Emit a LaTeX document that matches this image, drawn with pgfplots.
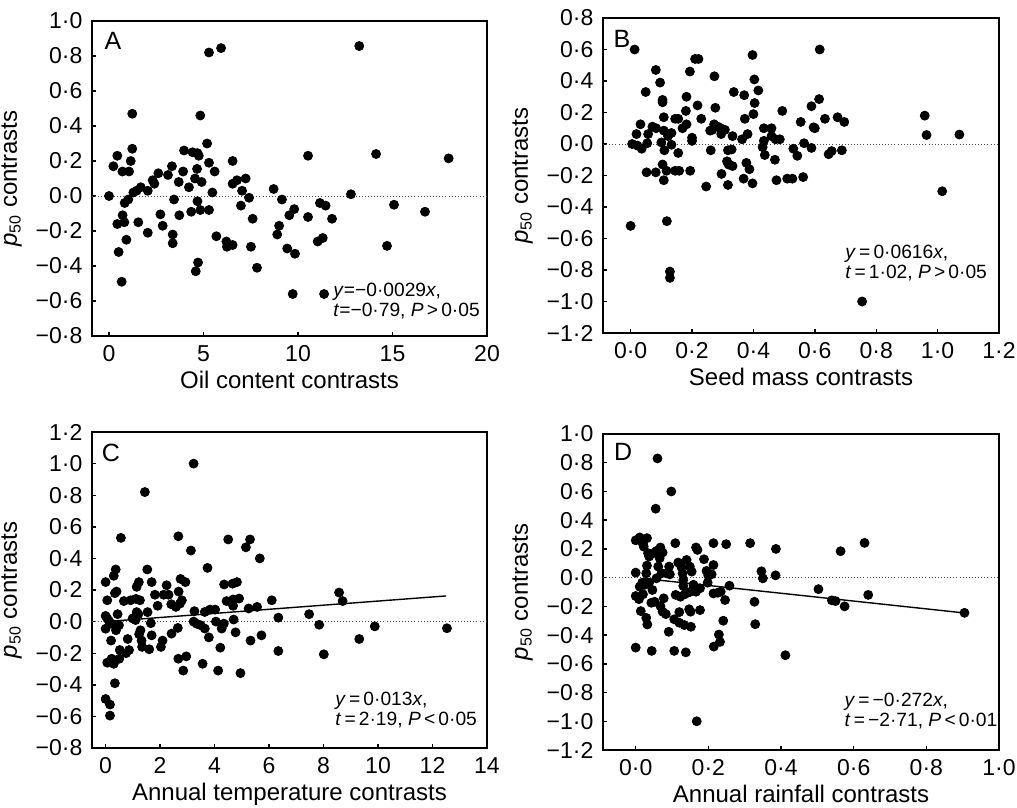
\documentclass[border=0pt]{standalone}
\usepackage{pgfplots}
\pgfplotsset{compat=1.18}
\usepackage{fontspec}
\setmainfont{Liberation Sans}

\pgfplotsset{
  panel/.style={
    scale only axis, anchor=north west,
    axis line style={line width=0.9pt},
    tick align=inside, xtick pos=left, ytick pos=left,
    major tick length=2.2pt,
    every tick/.style={black, line width=0.7pt},
    ticklabel style={font=\fontsize{11.5}{12}\selectfont},
    yticklabel style={xshift=-1.3pt},
    xticklabel style={yshift=-1.3pt},
    label style={font=\fontsize{12}{14}\selectfont},
    xlabel style={yshift=2.2pt},
    ylabel={\textit{p}\textsubscript{50} contrasts},
  },
  dots/.style={only marks, mark=*, mark size=2.25pt, black},
  zero/.style={black!70, line width=0.45pt, dash pattern=on 0.45pt off 1.1pt, forget plot},
  fit/.style={black, line width=0.7pt},
}
\tikzset{
  letter/.style={font=\fontsize{12.5}{14}\selectfont, inner sep=0pt, anchor=center},
  note/.style={font=\fontsize{9.6}{9.6}\selectfont, inner sep=0pt, anchor=north west, align=left},
}

\begin{document}
\begin{tikzpicture}
\path[use as bounding box] (0,0) rectangle (508.5pt,-404pt);

% A: oil content
\begin{axis}[panel, at={(46pt,-10.5pt)}, width=197.5pt, height=157.5pt,
  xmin=-0.9, xmax=20, ymin=-0.8, ymax=1.0,
  xtick={0,5,10,15,20}, xticklabels={0,5,10,15,20},
  ytick={-0.8,-0.6,-0.4,-0.2,0,0.2,0.4,0.6,0.8,1.0},
  yticklabels={−0·8,−0·6,−0·4,−0·2,0·0,0·2,0·4,0·6,0·8,1·0},
  xlabel={Oil content contrasts}]
\addplot[zero] coordinates {(-0.9,0)(20,0)};
\addplot[dots] table {
x y
0 0.00
0.23 0.17
0.44 0.23
0.71 0.14
1.06 0.14
1.15 0.20
1.23 0.27
1.23 0.47
0.83 -0.04
1.02 -0.02
1.29 0.02
1.46 0.03
1.68 0.05
2.05 0.03
0.72 -0.11
0.44 -0.16
0.81 -0.15
0.92 -0.25
0.51 -0.32
0.67 -0.49
1.55 -0.15
2.05 -0.21
2.31 0.09
2.40 0.07
2.61 0.13
2.72 -0.105
2.84 -0.17
3.12 0.12
3.33 0.17
3.44 -0.02
3.37 -0.22
3.37 -0.27
3.69 0.08
3.72 -0.11
3.92 0.14
3.97 0.26
4.23 0.05
4.35 -0.09
4.42 0.25
4.55 0.10
4.66 0.155
4.68 0.245
4.75 0.23
4.90 0.08
4.68 -0.03
4.83 -0.08
4.83 0.46
4.71 -0.38
4.59 -0.43
5.19 0.30
5.29 0.19
5.29 -0.08
5.29 0.82
5.93 0.845
5.47 0.02
5.59 0.14
5.68 -0.23
6.21 -0.26
6.24 -0.29
6.54 -0.28
6.54 0.20
6.54 0.07
6.77 0.09
6.98 -0.055
7.04 0.03
7.23 0.10
7.41 -0.01
7.60 -0.13
7.51 -0.29
7.83 -0.41
8.71 0.04
9.15 -0.02
8.90 -0.22
9.00 -0.17
9.54 -0.11
9.80 -0.075
9.43 -0.30
9.84 -0.33
9.72 -0.56
10.53 0.23
10.53 -0.12
13.24 0.857
14.13 0.24
17.97 0.215
12.80 0.01
11.16 -0.04
11.46 -0.055
11.80 -0.13
11.04 -0.26
11.31 -0.24
15.08 -0.05
16.72 -0.09
14.71 -0.285
11.38 -0.56
};
\node[letter] at (axis description cs:0.053,0.937) {A};
\node[note] at (axis description cs:0.61,0.168) {\textit{y}=−0·0029\textit{x},\\\textit{t}=−0·79, \textit{P}\,>\,0·05};
\end{axis}

% B: seed mass
\begin{axis}[panel, at={(301.5pt,-9pt)}, width=198pt, height=157.5pt,
  xmin=-0.09, xmax=1.2, ymin=-1.2, ymax=0.8,
  xtick={0,0.2,0.4,0.6,0.8,1.0,1.2}, xticklabels={0·0,0·2,0·4,0·6,0·8,1·0,1·2},
  ytick={-1.2,-1.0,-0.8,-0.6,-0.4,-0.2,0,0.2,0.4,0.6,0.8},
  yticklabels={−1·2,−1·0,−0·8,−0·6,−0·4,−0·2,0·0,0·2,0·4,0·6,0·8},
  xlabel={Seed mass contrasts}]
\addplot[zero] coordinates {(-0.09,0)(1.2,0)};
\addplot[dots] table {
x y
0.013 0.60
0.0 -0.52
0.005 0.0
0.019 0.063
0.032 0.125
0.022 -0.01
0.036 -0.03
0.049 0.33
0.057 0.063
0.054 0.005
0.052 -0.18
0.071 0.11
0.082 0.47
0.083 0.10
0.082 -0.18
0.096 0.39
0.104 0.28
0.104 0.265
0.108 0.17
0.10 0.01
0.108 0.085
0.11 -0.04
0.104 -0.13
0.117 -0.17
0.108 -0.23
0.122 0.05
0.133 0.07
0.133 -0.005
0.118 -0.49
0.128 -0.81
0.128 -0.85
0.145 0.16
0.155 0.16
0.155 -0.057
0.145 -0.17
0.158 -0.17
0.169 0.10
0.182 0.125
0.18 0.21
0.182 0.30
0.193 0.46
0.20 0.04
0.20 0.02
0.194 -0.17
0.21 0.54
0.221 0.54
0.218 0.245
0.23 0.16
0.246 -0.27
0.261 -0.04
0.259 0.085
0.273 0.43
0.276 0.23
0.272 0.125
0.266 0.09
0.284 0.11
0.294 0.10
0.295 0.063
0.307 0.09
0.296 -0.19
0.317 -0.26
0.314 -0.11
0.319 -0.13
0.317 -0.04
0.329 -0.035
0.332 -0.14
0.332 0.05
0.336 0.33
0.363 0.03
0.368 -0.22
0.372 0.16
0.37 0.31
0.381 0.063
0.377 -0.12
0.387 -0.16
0.397 -0.25
0.397 0.565
0.403 0.41
0.404 0.26
0.40 0.19
0.416 0.34
0.434 0.10
0.434 0.02
0.43 -0.02
0.437 -0.07
0.459 0.10
0.459 0.05
0.472 0.03
0.486 0.03
0.47 -0.10
0.475 -0.23
0.494 0.21
0.51 -0.22
0.527 -0.22
0.562 -0.21
0.554 0.14
0.616 0.60
0.614 0.285
0.589 0.24
0.633 0.16
0.596 0.106
0.60 0.10
0.674 0.17
0.696 0.14
0.53 -0.03
0.543 -0.075
0.565 0.005
0.589 -0.025
0.645 -0.065
0.655 -0.045
0.688 -0.04
0.958 0.18
0.964 0.057
1.071 0.06
1.015 -0.30
0.754 -1.0
};
\node[letter] at (axis description cs:0.048,0.933) {B};
\node[note] at (axis description cs:0.611,0.279) {\textit{y}\,=\,0·0616\textit{x},\\\textit{t}\,=\,1·02, \textit{P}\,>\,0·05};
\end{axis}

% C: annual temperature
\begin{axis}[panel, at={(46pt,-216pt)}, width=197.5pt, height=158pt,
  xmin=-0.5, xmax=14, ymin=-0.8, ymax=1.2,
  xtick={0,2,4,6,8,10,12,14}, xticklabels={0,2,4,6,8,10,12,14},
  ytick={-0.8,-0.6,-0.4,-0.2,0,0.2,0.4,0.6,0.8,1.0,1.2},
  yticklabels={−0·8,−0·6,−0·4,−0·2,0·0,0·2,0·4,0·6,0·8,1·0,1·2},
  xlabel={Annual temperature contrasts}]
\addplot[zero] coordinates {(-0.5,0)(14,0)};
\addplot[dots] table {
x y
0.00 0.25
0.06 0.135
0.00 0.036
0.06 0.02
0.00 -0.045
0.12 0.004
0.22 -0.013
0.30 0.29
0.37 0.33
0.34 0.18
0.40 0.19
0.44 0.047
0.40 -0.034
0.38 -0.055
0.49 -0.023
0.20 -0.12
0.06 -0.26
0.22 -0.235
0.30 -0.267
0.34 -0.39
0.00 -0.49
0.16 -0.525
0.16 -0.595
0.56 0.53
0.52 -0.18
0.50 -0.235
0.67 0.13
0.81 -0.11
0.75 -0.20
0.86 -0.18
0.92 0.135
0.99 0.02
1.10 0.01
1.11 0.144
1.14 0.22
1.22 0.25
1.26 0.135
1.14 0.06
1.20 0.047
1.28 -0.055
1.23 -0.08
1.32 -0.12
1.34 -0.16
1.44 0.82
1.53 0.33
1.54 0.06
1.60 -0.175
1.66 -0.01
1.69 0.25
1.69 -0.087
1.81 0.17
1.91 0.10
2.03 -0.16
2.09 -0.12
2.13 0.17
2.24 0.23
2.31 0.17
2.41 0.11
2.42 -0.076
2.58 0.093
2.68 0.19
2.67 0.54
2.67 -0.235
2.65 -0.04
2.75 0.27
2.80 0.135
2.73 0.114
2.93 0.25
2.85 -0.31
2.96 -0.22
3.13 0.45
3.23 1.0
3.26 0.066
3.23 0.0
3.34 -0.013
3.49 -0.023
3.64 0.061
3.64 -0.044
3.56 -0.267
3.74 0.34
3.79 -0.10
3.83 0.076
4.02 0.076
4.05 0.0
4.13 -0.31
4.21 -0.165
4.26 -0.044
4.34 -0.013
4.35 0.235
4.44 0.13
4.50 0.52
4.66 0.24
4.82 0.25
4.68 0.14
4.68 0.10
4.70 0.013
4.90 0.146
4.77 -0.068
4.95 -0.326
5.15 0.47
5.30 0.52
5.25 0.083
5.32 -0.12
5.56 0.093
5.66 0.40
5.72 -0.087
6.10 0.135
6.34 0.025
6.34 -0.186
7.47 0.047
7.84 -0.02
8.57 0.184
8.70 0.13
8.01 -0.207
9.31 -0.11
9.88 -0.03
12.53 -0.042
};
\addplot[fit] coordinates {(0.2,0.0026)(12.5,0.1625)};
\node[letter] at (axis description cs:0.048,0.934) {C};
\node[note] at (axis description cs:0.615,0.177) {\textit{y}\,=\,0·013\textit{x},\\\textit{t}\,=\,2·19, \textit{P}\,<\,0·05};
\end{axis}

% D: annual rainfall
\begin{axis}[panel, at={(301.5pt,-217pt)}, width=198pt, height=158pt,
  xmin=-0.09, xmax=1.0, ymin=-1.2, ymax=1.0,
  xtick={0,0.2,0.4,0.6,0.8,1.0}, xticklabels={0·0,0·2,0·4,0·6,0·8,1·0},
  ytick={-1.2,-1.0,-0.8,-0.6,-0.4,-0.2,0,0.2,0.4,0.6,0.8,1.0},
  yticklabels={−1·2,−1·0,−0·8,−0·6,−0·4,−0·2,0·0,0·2,0·4,0·6,0·8,1·0},
  xlabel={Annual rainfall contrasts}]
\addplot[zero] coordinates {(-0.09,0)(1.0,0)};
\addplot[dots] table {
x y
0.060 0.83
0.098 0.60
0.055 0.48
0.000 0.26
0.011 0.28
0.020 0.235
0.031 0.275
0.022 0.216
0.034 0.17
0.037 0.147
0.048 0.17
0.057 0.186
0.068 0.21
0.074 0.175
0.066 0.135
0.062 0.077
0.071 0.03
0.057 -0.005
0.085 0.03
0.092 0.077
0.094 0.023
0.031 0.084
0.029 0.03
0.000 0.035
0.018 -0.035
0.011 -0.063
0.025 -0.05
0.037 -0.035
0.046 -0.086
0.000 -0.128
0.009 -0.15
0.020 -0.116
0.014 -0.233
0.029 -0.28
0.032 -0.326
0.043 -0.175
0.052 -0.168
0.068 -0.198
0.077 -0.144
0.074 -0.237
0.083 -0.254
0.091 -0.377
0.000 -0.487
0.044 -0.51
0.106 -0.51
0.138 -0.52
0.109 0.24
0.117 0.105
0.126 0.072
0.129 0.03
0.131 -0.016
0.131 -0.058
0.140 0.123
0.149 0.077
0.154 0.042
0.110 -0.12
0.123 -0.133
0.135 -0.116
0.149 -0.10
0.166 -0.098
0.177 -0.074
0.159 -0.05
0.170 0.193
0.166 0.21
0.188 0.128
0.195 0.047
0.200 0.014
0.198 -0.035
0.177 -0.226
0.120 -0.24
0.147 -0.22
0.151 -0.237
0.106 -0.29
0.120 -0.314
0.134 -0.33
0.152 -0.342
0.168 -1.0
0.214 0.24
0.214 0.088
0.209 0.023
0.214 -0.11
0.226 -0.105
0.234 -0.098
0.246 -0.156
0.258 -0.056
0.241 -0.30
0.229 -0.396
0.232 -0.447
0.215 -0.48
0.249 0.233
0.315 0.24
0.327 -0.168
0.329 -0.324
0.346 0.044
0.350 -0.005
0.385 0.016
0.386 0.20
0.412 -0.54
0.564 0.184
0.630 0.242
0.503 -0.08
0.540 -0.158
0.550 -0.163
0.575 -0.20
0.640 -0.12
0.905 -0.245
};
\addplot[fit] coordinates {(0.02,-0.0054)(0.905,-0.246)};
\node[letter] at (axis description cs:0.051,0.943) {D};
\node[note] at (axis description cs:0.609,0.18) {\textit{y}\,=\,−0·272\textit{x},\\\textit{t}\,=\,−2·71, \textit{P}\,<\,0·01};
\end{axis}
\end{tikzpicture}
\end{document}
